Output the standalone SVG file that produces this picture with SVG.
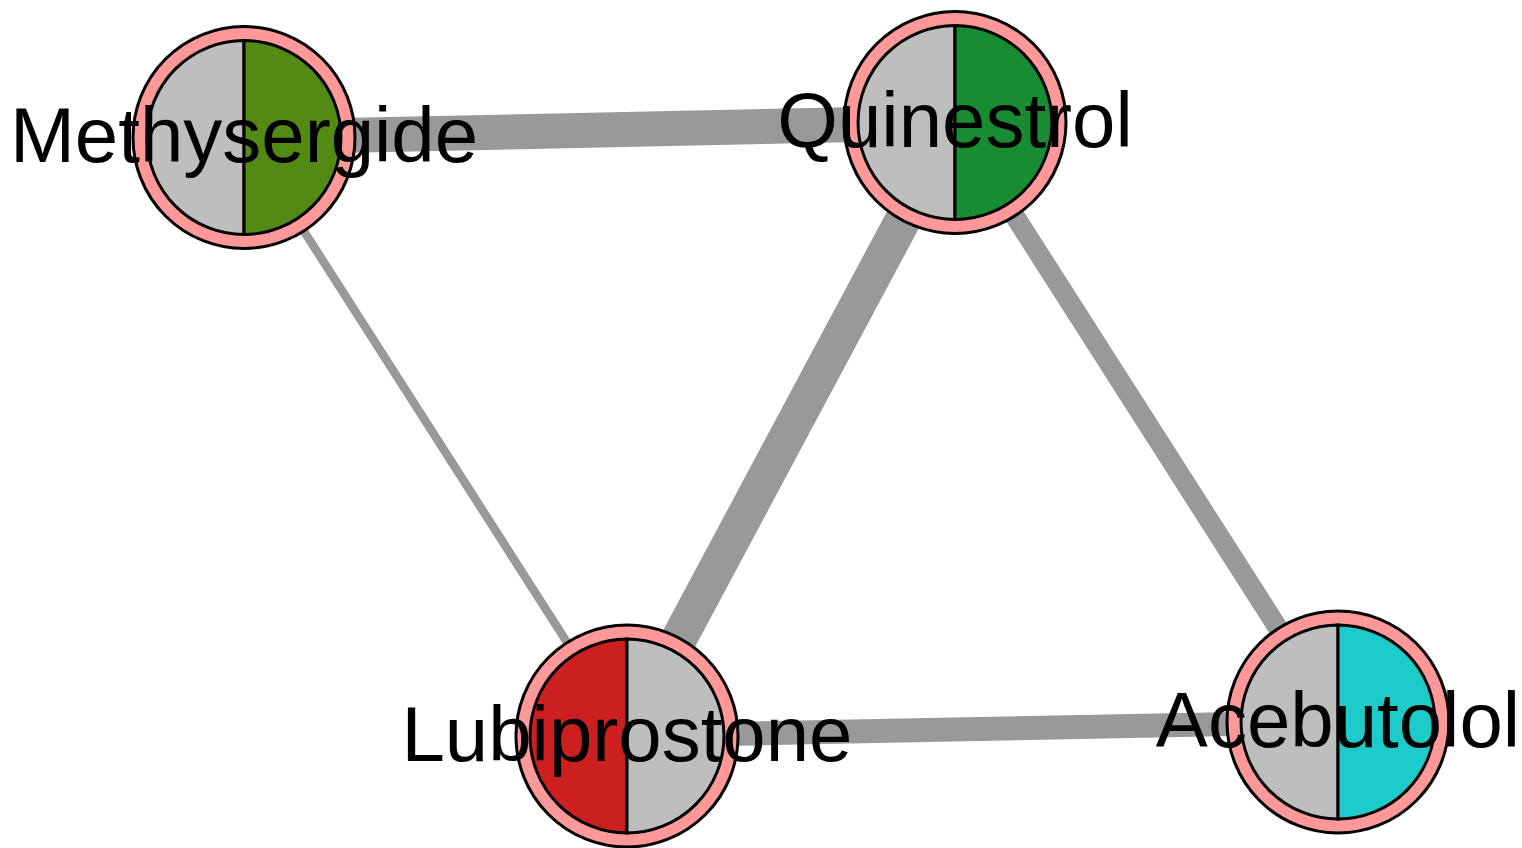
<svg xmlns="http://www.w3.org/2000/svg" width="1522" height="848" viewBox="0 0 1522 848">
<style>
.edge{stroke:#999999;fill:none;stroke-linecap:butt}
.ring{fill:#FF9999;stroke:#000;stroke-width:3}
.half{stroke:#000;stroke-width:3}
.grey{fill:#BEBEBE}
.lbl{font-family:"Liberation Sans",Arial,sans-serif;font-size:78px;fill:#000;text-anchor:middle}
</style>
<rect width="1522" height="848" fill="#fff"/>
<g id="edges">
<line class="edge" x1="244" y1="137.5" x2="955" y2="122.5" stroke-width="35"/>
<line class="edge" x1="244" y1="137.5" x2="627" y2="736" stroke-width="8.5"/>
<line class="edge" x1="955" y1="122.5" x2="627" y2="736" stroke-width="36"/>
<line class="edge" x1="955" y1="122.5" x2="1338" y2="722" stroke-width="20"/>
<line class="edge" x1="627" y1="736" x2="1338" y2="722" stroke-width="24"/>
</g>
<g id="node-methysergide" transform="translate(244,137.5)">
<circle class="ring" r="111"/>
<path class="half grey" d="M0,-97 A97,97 0 0 0 0,97 Z"/>
<path class="half" fill="#528A14" d="M0,-97 A97,97 0 0 1 0,97 Z"/>
</g>
<g id="node-quinestrol" transform="translate(955,122.5)">
<circle class="ring" r="111"/>
<path class="half grey" d="M0,-97 A97,97 0 0 0 0,97 Z"/>
<path class="half" fill="#178C33" d="M0,-97 A97,97 0 0 1 0,97 Z"/>
</g>
<g id="node-lubiprostone" transform="translate(627,736)">
<circle class="ring" r="111"/>
<path class="half" fill="#CC2020" d="M0,-97 A97,97 0 0 0 0,97 Z"/>
<path class="half grey" d="M0,-97 A97,97 0 0 1 0,97 Z"/>
</g>
<g id="node-acebutolol" transform="translate(1338,722)">
<circle class="ring" r="111"/>
<path class="half grey" d="M0,-97 A97,97 0 0 0 0,97 Z"/>
<path class="half" fill="#1ECBCB" d="M0,-97 A97,97 0 0 1 0,97 Z"/>
</g>
<g id="labels">
<text class="lbl" x="244" y="162">Methysergide</text>
<text class="lbl" x="955" y="147">Quinestrol</text>
<text class="lbl" x="627" y="761">Lubiprostone</text>
<text class="lbl" x="1338" y="747">Acebutolol</text>
</g>
</svg>
